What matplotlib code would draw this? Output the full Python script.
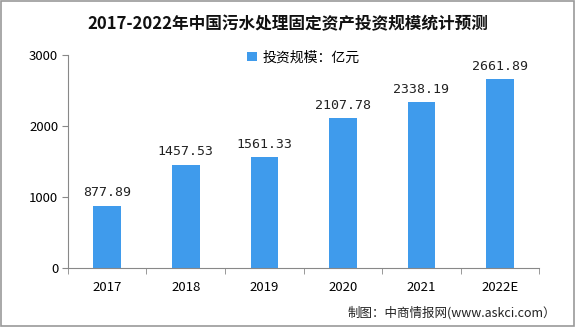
import matplotlib
matplotlib.use("Agg")
import matplotlib.pyplot as plt
import numpy as np

plt.rcParams['font.family'] = ['Noto Sans CJK SC', 'DejaVu Sans']

categories = ["2017", "2018", "2019", "2020", "2021", "2022E"]
values = [877.89, 1457.53, 1561.33, 2107.78, 2338.19, 2661.89]
labels = ["877.89", "1457.53", "1561.33", "2107.78", "2338.19", "2661.89"]
yticks = [0, 1000, 2000, 3000]

fig = plt.figure(figsize=(5.76, 3.27), dpi=100)
ax = fig.add_axes([0.118, 0.180, 0.818, 0.652])

x = np.arange(len(categories))
bars = ax.bar(x, values, width=0.35, color='#3f9bec', label='投资规模：亿元', zorder=2)
for xi, v, lab in zip(x, values, labels):
    ax.text(xi, v + 90, lab, ha='center', va='bottom', fontsize=9.5, color='#222222',
            family=['DejaVu Sans Mono'])

ax.set_xlim(-0.5, len(categories) - 0.5)
ax.set_ylim(0, 3000)
ax.set_yticks(yticks)
ax.set_yticklabels([str(t) for t in yticks], fontsize=9.5)
ax.set_xticks(x)
ax.set_xticklabels(categories, fontsize=9.5)
ax.tick_params(axis='x', length=0, pad=9)
ax.set_xticks(np.arange(-0.5, len(categories), 1), minor=True)
ax.tick_params(axis='x', which='minor', length=4, direction='out', color='#888888')
ax.tick_params(axis='y', length=4, direction='out', color='#888888', pad=3)
for s in ['top', 'right']:
    ax.spines[s].set_visible(False)
for s in ['left', 'bottom']:
    ax.spines[s].set_color('#888888')

leg = ax.legend(loc='upper center', bbox_to_anchor=(0.5, 1.08), frameon=False,
                fontsize=10, handlelength=0.7, handleheight=0.7, handletextpad=0.4)

fig.text(0.5, 0.925, '2017-2022年中国污水处理固定资产投资规模统计预测', ha='center', va='center',
         fontsize=12, fontweight='bold', color='#111111')
fig.text(0.965, 0.045, '制图：中商情报网(www.askci.com）', ha='right', va='center', fontsize=9, color='#222222')

border = plt.Rectangle((0.002, 0.003), 0.995, 0.994, transform=fig.transFigure, fill=False,
                       edgecolor='#999999', linewidth=1.2)
fig.patches.append(border)

fig.savefig('out.png', dpi=100)
